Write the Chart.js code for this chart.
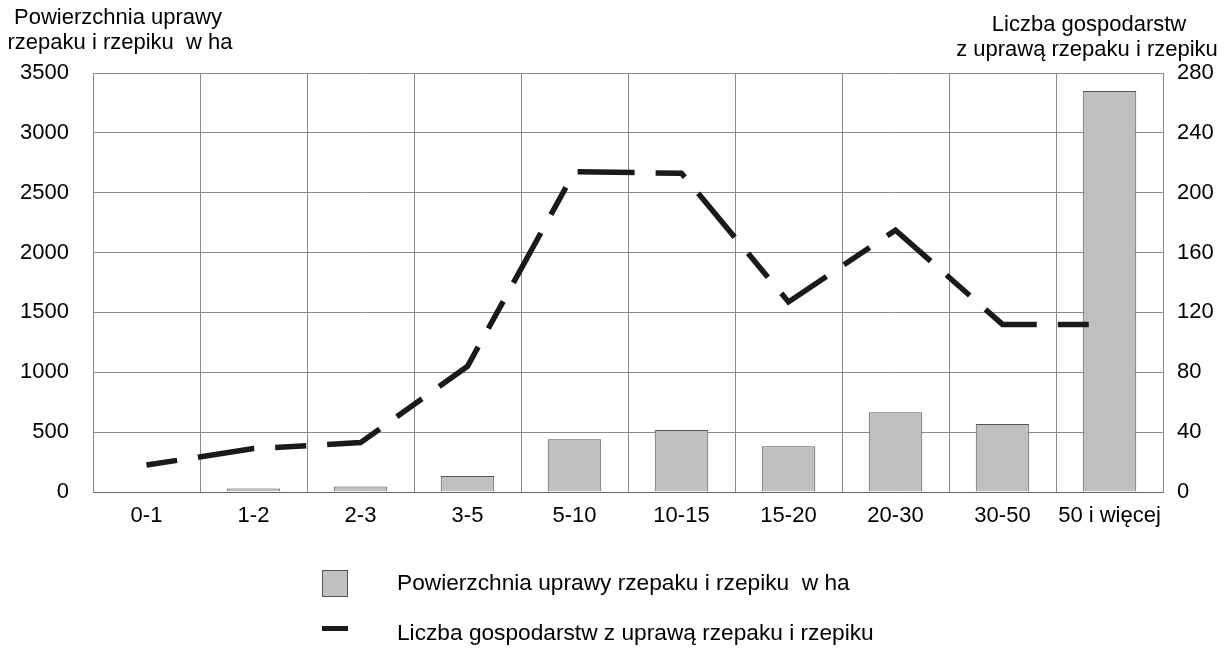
<!DOCTYPE html>
<html>
<head>
<meta charset="utf-8">
<script src="https://cdn.jsdelivr.net/npm/chart.js@4.4.0/dist/chart.umd.min.js"></script>
<style>
html,body{margin:0;padding:0;background:#fff;}
#wrap{width:1232px;height:671px;position:relative;}
</style>
</head>
<body>
<div id="wrap"><canvas id="c" width="1232" height="671"></canvas></div>
<script>
const categories = ['0-1','1-2','2-3','3-5','5-10','10-15','15-20','20-30','30-50','50 i więcej'];
const areaHa = [0, 30, 45, 134, 440, 518, 382, 666, 568, 3350];
const farms = [18, 29, 33, 84, 214, 213, 127, 175, 112, 112];
const leftTicks = [0, 500, 1000, 1500, 2000, 2500, 3000, 3500];
const rightTicks = [0, 40, 80, 120, 160, 200, 240, 280];
const leftTitle = ['Powierzchnia uprawy', 'rzepaku i rzepiku  w ha'];
const rightTitle = ['Liczba gospodarstw', 'z uprawą rzepaku i rzepiku'];
const legendLabels = ['Powierzchnia uprawy rzepaku i rzepiku  w ha', 'Liczba gospodarstw z uprawą rzepaku i rzepiku'];

const FONT = '"Liberation Sans", Arial, sans-serif';
const GRID = '#8a8a8a';

const extras = {
  id: 'extras',
  afterDraw(chart) {
    const ctx = chart.ctx;
    ctx.save();
    ctx.fillStyle = '#000';
    ctx.font = '22px ' + FONT;
    ctx.textAlign = 'center';
    ctx.textBaseline = 'middle';
    ctx.fillText(leftTitle[0], 118, 18);
    ctx.fillText(leftTitle[1], 120, 43);
    ctx.fillText(rightTitle[0], 1089, 25);
    ctx.fillText(rightTitle[1], 1087, 50);
    // legend
    ctx.fillStyle = '#c0c0c0';
    ctx.fillRect(322.5, 570.5, 25, 26);
    ctx.strokeStyle = '#555';
    ctx.lineWidth = 1;
    ctx.strokeRect(322.5, 570.5, 25, 26);
    ctx.fillStyle = '#1a1a1a';
    ctx.fillRect(322, 626, 26, 5);
    ctx.fillStyle = '#000';
    ctx.textAlign = 'left';
    ctx.font = '22.7px ' + FONT;
    ctx.fillText(legendLabels[0], 397, 584);
    ctx.fillText(legendLabels[1], 397, 634);
    ctx.restore();
  }
};

new Chart(document.getElementById('c'), {
  data: {
    labels: categories,
    datasets: [
      {
        type: 'line',
        label: legendLabels[1],
        data: farms,
        yAxisID: 'y1',
        borderColor: '#1a1a1a',
        borderWidth: 5.5,
        borderDash: [31, 21, 57, 21],
        borderCapStyle: 'butt',
        borderJoinStyle: 'miter',
        pointRadius: 0,
        tension: 0,
        fill: false,
        order: 0
      },
      {
        type: 'bar',
        label: legendLabels[0],
        data: areaHa,
        yAxisID: 'y',
        backgroundColor: '#c0c0c0',
        borderColor: '#555555',
        borderWidth: 1,
        barPercentage: 0.5,
        categoryPercentage: 1.0,
        order: 1
      }
    ]
  },
  options: {
    responsive: false,
    animation: false,
    layout: { padding: { top: 73, left: 0, right: 0, bottom: 0 } },
    plugins: { legend: { display: false }, tooltip: { enabled: false } },
    scales: {
      x: {
        type: 'category',
        offset: true,
        grid: { color: GRID, lineWidth: 1, drawTicks: false, offset: true },
        border: { color: '#666', width: 1 },
        ticks: { color: '#000', font: { family: FONT, size: 22 }, padding: 11, maxRotation: 0, autoSkip: false },
        afterFit(s) { s.height = 179; }
      },
      y: {
        position: 'left',
        min: 0, max: 3500,
        afterBuildTicks(s) { s.ticks = leftTicks.map(v => ({ value: v })); },
        grid: { color: GRID, lineWidth: 1, drawTicks: false },
        border: { color: GRID, width: 1 },
        ticks: { color: '#000', font: { family: FONT, size: 22 }, padding: 24, callback: v => String(v) },
        afterFit(s) { s.width = 93; }
      },
      y1: {
        position: 'right',
        min: 0, max: 280,
        afterBuildTicks(s) { s.ticks = rightTicks.map(v => ({ value: v })); },
        grid: { drawOnChartArea: false, drawTicks: false },
        border: { color: GRID, width: 1 },
        ticks: { color: '#000', font: { family: FONT, size: 22 }, padding: 14, callback: v => String(v) },
        afterFit(s) { s.width = 69; }
      }
    }
  },
  plugins: [extras]
});
</script>
</body>
</html>
